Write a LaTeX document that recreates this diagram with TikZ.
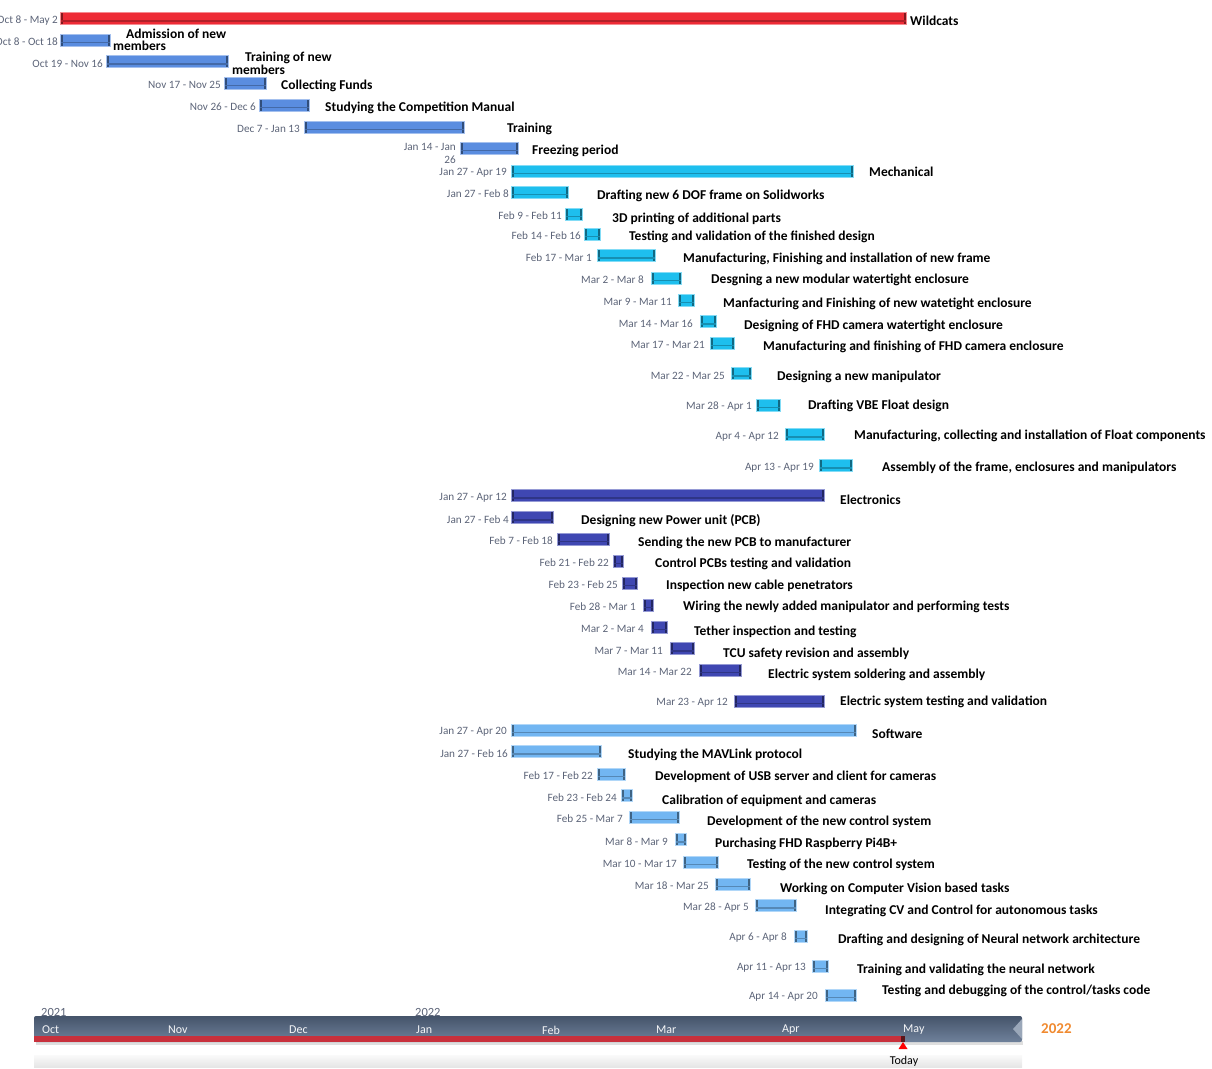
\documentclass[tikz,border=0pt]{standalone}
\usepackage{fontspec}
\setmainfont{Carlito}
\usetikzlibrary{positioning}

\definecolor{wildred}{HTML}{EE2B36}
\definecolor{teamblue}{HTML}{5A8DE0}
\definecolor{mechcyan}{HTML}{1EBFEE}
\definecolor{elecblue}{HTML}{3F47B2}
\definecolor{softblue}{HTML}{72B6F2}
\definecolor{datecol}{HTML}{5C6478}
\definecolor{axisdark}{HTML}{45546A}
\definecolor{axislight}{HTML}{6F819B}
\definecolor{progressred}{HTML}{C8303C}
\definecolor{yearorange}{HTML}{F08A30}

\tikzset{
  ganttbar/.style={rectangle, anchor=west, inner sep=0pt, minimum height=12pt,
    fill=#1, draw=#1!55!white, line width=1pt,
    path picture={
      \fill[#1!55!black] (path picture bounding box.south west) rectangle ([xshift=2.5pt]path picture bounding box.north west);
      \fill[#1!55!black] ([xshift=-2.5pt]path picture bounding box.south east) rectangle (path picture bounding box.north east);
      \fill[#1!75!black] ([yshift=3pt]path picture bounding box.south west) rectangle ([yshift=4.5pt]path picture bounding box.south east);
    }},
  datelbl/.style={anchor=east, inner sep=0pt, yshift=-2pt, text=datecol,
    font=\fontsize{11.2}{13.5}\selectfont},
  tasklbl/.style={anchor=west, inner sep=0pt, font=\fontsize{13.5}{12.5}\selectfont\bfseries},
  monthlbl/.style={anchor=west, inner sep=0pt, text=white!92!axislight,
    font=\fontsize{12}{12}\selectfont},
}

\begin{document}
\begin{tikzpicture}[x=1pt,y=-1pt]
\useasboundingbox (0,0) rectangle (1212,1068);

% team
\node[ganttbar=wildred, minimum width=846pt] (w) at (60,18.5) {};
\node[datelbl, left=2pt of w] (dw) {Oct 8 - May 2};
\node[tasklbl] (lw) at (910,21) {Wildcats};

\node[ganttbar=teamblue, minimum width=50pt] (t1) at (60,40) {};
\node[datelbl, left=2pt of t1] (dt1) {Oct 8 - Oct 18};
\node[tasklbl, align=left] (lt1) at (113,40) {\hspace*{13pt}Admission of new\\members};

\node[ganttbar=teamblue, minimum width=122pt] (t2) at (106,61.5) {};
\node[datelbl, left=3pt of t2] (dt2) {Oct 19 - Nov 16};
\node[tasklbl, align=left] (lt2) at (232,63.5) {\hspace*{13pt}Training of new\\members};

\node[ganttbar=teamblue, minimum width=42pt] (t3) at (224,83) {};
\node[datelbl, left=3pt of t3] (dt3) {Nov 17 - Nov 25};
\node[tasklbl] (lt3) at (281,86) {Collecting Funds};

\node[ganttbar=teamblue, minimum width=50pt] (t4) at (259,105) {};
\node[datelbl, left=3pt of t4] (dt4) {Nov 26 - Dec 6};
\node[tasklbl] (lt4) at (325,108) {Studying the Competition Manual};

\node[ganttbar=teamblue, minimum width=160pt] (t5) at (304,127) {};
\node[datelbl, left=4pt of t5] (dt5) {Dec 7 - Jan 13};
\node[tasklbl] (lt5) at (507,129) {Training};

\node[ganttbar=teamblue, minimum width=58pt] (t6) at (460,148) {};
\node[datelbl, align=right, left=4pt of t6, yshift=-3.5pt] (dt6) {Jan 14 - Jan\\26};
\node[tasklbl] (lt6) at (532,151) {Freezing period};

% mechanical
\node[ganttbar=mechcyan, minimum width=342pt] (m0) at (511,171) {};
\node[datelbl, left=4pt of m0] (dm0) {Jan 27 - Apr 19};
\node[tasklbl] (lm0) at (869,172) {Mechanical};

\node[ganttbar=mechcyan, minimum width=57pt] (m1) at (511,192) {};
\node[datelbl, left=2pt of m1] (dm1) {Jan 27 - Feb 8};
\node[tasklbl] (lm1) at (597,196) {Drafting new 6 DOF frame on Solidworks};

\node[ganttbar=mechcyan, minimum width=17pt] (m2) at (565,214) {};
\node[datelbl, left=3pt of m2] (dm2) {Feb 9 - Feb 11};
\node[tasklbl] (lm2) at (612,219) {3D printing of additional parts};

\node[ganttbar=mechcyan, minimum width=16pt] (m3) at (584,234) {};
\node[datelbl, left=3pt of m3] (dm3) {Feb 14 - Feb 16};
\node[tasklbl] (lm3) at (629,237) {Testing and validation of the finished design};

\node[ganttbar=mechcyan, minimum width=58pt] (m4) at (597,255.5) {};
\node[datelbl, left=5pt of m4] (dm4) {Feb 17 - Mar 1};
\node[tasklbl] (lm4) at (683,259) {Manufacturing, Finishing and installation of new frame};

\node[ganttbar=mechcyan, minimum width=30pt] (m5) at (651,278) {};
\node[datelbl, left=7pt of m5] (dm5) {Mar 2 - Mar 8};
\node[tasklbl] (lm5) at (711,280) {Desgning a new modular watertight enclosure};

\node[ganttbar=mechcyan, minimum width=16pt] (m6) at (678,300) {};
\node[datelbl, left=6pt of m6] (dm6) {Mar 9 - Mar 11};
\node[tasklbl] (lm6) at (723,304) {Manfacturing and Finishing of new watetight enclosure};

\node[ganttbar=mechcyan, minimum width=16pt] (m7) at (700,321.5) {};
\node[datelbl, left=7pt of m7] (dm7) {Mar 14 - Mar 16};
\node[tasklbl] (lm7) at (744,326) {Designing of FHD camera watertight enclosure};

\node[ganttbar=mechcyan, minimum width=24pt] (m8) at (710,343) {};
\node[datelbl, left=5pt of m8] (dm8) {Mar 17 - Mar 21};
\node[tasklbl] (lm8) at (763,347) {Manufacturing and finishing of FHD camera enclosure};

\node[ganttbar=mechcyan, minimum width=20pt] (m9) at (731,373.5) {};
\node[datelbl, left=6pt of m9] (dm9) {Mar 22 - Mar 25};
\node[tasklbl] (lm9) at (777,377) {Designing a new manipulator};

\node[ganttbar=mechcyan, minimum width=24pt] (m10) at (756,405) {};
\node[datelbl, left=4pt of m10] (dm10) {Mar 28 - Apr 1};
\node[tasklbl] (lm10) at (808,406) {Drafting VBE Float design};

\node[ganttbar=mechcyan, minimum width=39pt] (m11) at (785,434.5) {};
\node[datelbl, left=6pt of m11] (dm11) {Apr 4 - Apr 12};
\node[tasklbl] (lm11) at (854,436) {Manufacturing, collecting and installation of Float components};

\node[ganttbar=mechcyan, minimum width=33pt] (m12) at (819,465.5) {};
\node[datelbl, left=5pt of m12] (dm12) {Apr 13 - Apr 19};
\node[tasklbl] (lm12) at (882,468) {Assembly of the frame, enclosures and manipulators};

% electronics
\node[ganttbar=elecblue, minimum width=313pt] (e0) at (511,495.5) {};
\node[datelbl, left=4pt of e0] (de0) {Jan 27 - Apr 12};
\node[tasklbl] (le0) at (840,500) {Electronics};

\node[ganttbar=elecblue, minimum width=42pt] (e1) at (511,517.5) {};
\node[datelbl, left=2pt of e1] (de1) {Jan 27 - Feb 4};
\node[tasklbl] (le1) at (581,521) {Designing new Power unit (PCB)};

\node[ganttbar=elecblue, minimum width=52pt] (e2) at (557,539) {};
\node[datelbl, left=4pt of e2] (de2) {Feb 7 - Feb 18};
\node[tasklbl] (le2) at (638,543) {Sending the new PCB to manufacturer};

\node[ganttbar=elecblue, minimum width=10pt] (e3) at (613,561) {};
\node[datelbl, left=4pt of e3] (de3) {Feb 21 - Feb 22};
\node[tasklbl] (le3) at (655,564) {Control PCBs testing and validation};

\node[ganttbar=elecblue, minimum width=15pt] (e4) at (622,583) {};
\node[datelbl, left=4pt of e4] (de4) {Feb 23 - Feb 25};
\node[tasklbl] (le4) at (666,586) {Inspection new cable penetrators};

\node[ganttbar=elecblue, minimum width=10pt] (e5) at (643,605) {};
\node[datelbl, left=7pt of e5] (de5) {Feb 28 - Mar 1};
\node[tasklbl] (le5) at (683,607) {Wiring the newly added manipulator and performing tests};

\node[ganttbar=elecblue, minimum width=16pt] (e6) at (651,627) {};
\node[datelbl, left=7pt of e6] (de6) {Mar 2 - Mar 4};
\node[tasklbl] (le6) at (694,632) {Tether inspection and testing};

\node[ganttbar=elecblue, minimum width=24pt] (e7) at (670,648.5) {};
\node[datelbl, left=7pt of e7] (de7) {Mar 7 - Mar 11};
\node[tasklbl] (le7) at (723,654) {TCU safety revision and assembly};

\node[ganttbar=elecblue, minimum width=42pt] (e8) at (699,670) {};
\node[datelbl, left=7pt of e8] (de8) {Mar 14 - Mar 22};
\node[tasklbl] (le8) at (768,675) {Electric system soldering and assembly};

\node[ganttbar=elecblue, minimum width=90pt] (e9) at (734,701) {};
\node[datelbl, left=6pt of e9] (de9) {Mar 23 - Apr 12};
\node[tasklbl] (le9) at (840,702) {Electric system testing and validation};

% software
\node[ganttbar=softblue, minimum width=345pt] (s0) at (511,730) {};
\node[datelbl, left=4pt of s0] (ds0) {Jan 27 - Apr 20};
\node[tasklbl] (ls0) at (872,734) {Software};

\node[ganttbar=softblue, minimum width=90pt] (s1) at (511,751.5) {};
\node[datelbl, left=3pt of s1] (ds1) {Jan 27 - Feb 16};
\node[tasklbl] (ls1) at (628,755) {Studying the MAVLink protocol};

\node[ganttbar=softblue, minimum width=28pt] (s2) at (597,774) {};
\node[datelbl, left=4pt of s2] (ds2) {Feb 17 - Feb 22};
\node[tasklbl] (ls2) at (655,777) {Development of USB server and client for cameras};

\node[ganttbar=softblue, minimum width=11pt] (s3) at (621,795.5) {};
\node[datelbl, left=4pt of s3] (ds3) {Feb 23 - Feb 24};
\node[tasklbl] (ls3) at (662,801) {Calibration of equipment and cameras};

\node[ganttbar=softblue, minimum width=50pt] (s4) at (629,817) {};
\node[datelbl, left=6pt of s4] (ds4) {Feb 25 - Mar 7};
\node[tasklbl] (ls4) at (707,822) {Development of the new control system};

\node[ganttbar=softblue, minimum width=11pt] (s5) at (675,839.5) {};
\node[datelbl, left=7pt of s5] (ds5) {Mar 8 - Mar 9};
\node[tasklbl] (ls5) at (715,844) {Purchasing FHD Raspberry Pi4B+};

\node[ganttbar=softblue, minimum width=35pt] (s6) at (683,862) {};
\node[datelbl, left=6pt of s6] (ds6) {Mar 10 - Mar 17};
\node[tasklbl] (ls6) at (747,865) {Testing of the new control system};

\node[ganttbar=softblue, minimum width=35pt] (s7) at (715,884) {};
\node[datelbl, left=6pt of s7] (ds7) {Mar 18 - Mar 25};
\node[tasklbl] (ls7) at (780,889) {Working on Computer Vision based tasks};

\node[ganttbar=softblue, minimum width=41pt] (s8) at (755,905.5) {};
\node[datelbl, left=6pt of s8] (ds8) {Mar 28 - Apr 5};
\node[tasklbl] (ls8) at (825,911) {Integrating CV and Control for autonomous tasks};

\node[ganttbar=softblue, minimum width=13pt] (s9) at (794,936) {};
\node[datelbl, left=7pt of s9] (ds9) {Apr 6 - Apr 8};
\node[tasklbl] (ls9) at (838,940) {Drafting and designing of Neural network architecture};

\node[ganttbar=softblue, minimum width=16pt] (s10) at (812,966) {};
\node[datelbl, left=6pt of s10] (ds10) {Apr 11 - Apr 13};
\node[tasklbl] (ls10) at (857,970) {Training and validating the neural network};

\node[ganttbar=softblue, minimum width=31pt] (s11) at (825,995) {};
\node[datelbl, left=7pt of s11] (ds11) {Apr 14 - Apr 20};
\node[tasklbl] (ls11) at (882,991) {Testing and debugging of the control/tasks code};

% timeline
\fill[gray!25] (36,1041) rectangle (1023,1045);
\shade[top color=axisdark, bottom color=axislight, rounded corners=2pt] (34,1016) rectangle (1022,1042);
\fill[axislight!70!white] (1022,1019) -- (1013,1029) -- (1022,1039) -- cycle;
\fill[progressred] (34,1036) rectangle (903,1042);
\fill[black!55!progressred] (901,1036) rectangle (905,1042);
\fill[red] (903,1042) -- (907.5,1049) -- (898.5,1049) -- cycle;
\shade[top color=gray!4, bottom color=gray!20] (34,1055) rectangle (1022,1067);

\node[monthlbl] (oct) at (42,1030) {Oct};
\node[monthlbl] (nov) at (168,1030) {Nov};
\node[monthlbl] (dec) at (289,1030) {Dec};
\node[monthlbl] (jan) at (416,1030) {Jan};
\node[monthlbl] (feb) at (542,1030) {Feb};
\node[monthlbl] (mar) at (656,1030) {Mar};
\node[monthlbl] (apr) at (782,1030) {Apr};
\node[monthlbl] (may) at (903,1030) {May};

\node[anchor=west, inner sep=0pt, text=datecol, font=\fontsize{12.5}{12}\selectfont] (yra) at (41,1012) {2021};
\node[anchor=west, inner sep=0pt, text=datecol, font=\fontsize{12.5}{12}\selectfont] (yrb) at (415,1012) {2022};
\node[anchor=west, inner sep=0pt, text=yearorange, font=\fontsize{15}{16}\selectfont\bfseries] (yrc) at (1041,1029) {2022};
\node[anchor=north, inner sep=0pt, font=\fontsize{12}{12}\selectfont] (today) at (904,1056) {Today};
\end{tikzpicture}
\end{document}
